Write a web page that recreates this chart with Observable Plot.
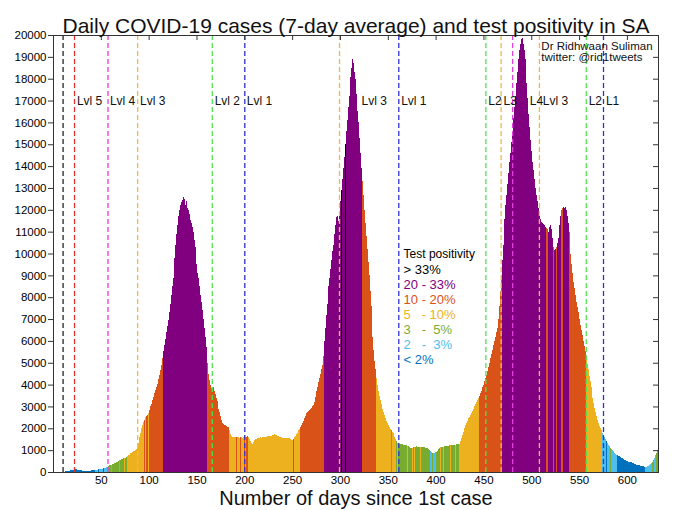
<!DOCTYPE html>
<html><head><meta charset="utf-8">
<script src="https://cdn.jsdelivr.net/npm/d3@7"></script>
<script src="https://cdn.jsdelivr.net/npm/@observablehq/plot@0.6"></script>
<style>
body{margin:0;background:#fff;}
svg text{white-space:pre;}
</style></head><body><div id="chart"></div>
<script>
// 7-day average daily cases, one value per day since the 1st case (day 0 .. 632)
const cases = [
0,0,1,1,2,3,4,6,8,10,
12,15,20,25,30,40,50,60,70,85,
100,110,120,125,120,110,100,90,80,70,
65,60,58,55,55,58,60,62,65,68,
72,76,80,85,90,100,110,120,130,140,
150,160,175,190,205,220,240,260,280,300,
320,340,360,380,400,420,440,470,500,530,
560,590,610,620,630,650,680,720,760,800,
830,860,890,920,950,980,1000,1050,1150,1350,
1600,1800,2000,2150,2300,2400,2500,2550,2600,2700,
2850,3000,3100,3200,3300,3450,3600,3750,3900,4050,
4250,4450,4650,4900,5200,5550,5800,6100,6400,6700,
6950,7300,7700,8100,8500,8900,9300,9800,10400,10900,
11300,11700,12000,12200,12350,12450,12600,12500,12200,12400,
12100,12000,11800,11550,11400,11200,11000,10600,10300,9900,
9500,9100,8900,8500,8100,7800,7400,7000,6600,6200,
5700,5000,4500,4200,4000,3850,3800,3900,3700,3550,
3400,3250,3050,2900,2750,2550,2400,2250,2200,2150,
2150,2100,2080,2050,1900,1750,1650,1600,1600,1580,
1600,1620,1600,1580,1550,1600,1620,1580,1550,1600,
1650,1620,1600,1650,1600,1500,1400,1320,1300,1380,
1450,1500,1530,1550,1560,1560,1580,1570,1580,1600,
1600,1610,1620,1620,1640,1650,1660,1650,1670,1690,
1700,1720,1700,1680,1650,1640,1620,1600,1580,1570,
1560,1560,1570,1560,1560,1550,1560,1540,1520,1480,
1450,1500,1580,1650,1720,1800,1900,1980,2060,2150,
2250,2350,2450,2550,2650,2700,2750,2800,2850,2900,
2950,3000,3050,3200,3450,3700,3900,4100,4300,4500,
4700,4900,5300,6000,6600,7200,7700,8200,8500,8900,
9300,9700,10100,10400,10900,11300,11650,11700,11500,11800,
12400,12900,13400,13900,14400,15000,15600,16100,16700,17200,
17700,18100,18500,18900,18700,18300,18000,17300,16500,16000,
15300,14600,13900,13300,12700,12000,11400,10800,10200,9600,
9000,8300,7600,6900,6200,5600,5100,4700,4300,4000,
3700,3500,3300,3100,2900,2750,2600,2450,2330,2240,
2150,2050,1980,1900,1830,1770,1700,1600,1500,1420,
1350,1320,1300,1280,1270,1260,1250,1240,1230,1220,
1200,1180,1150,1120,1100,1110,1130,1150,1160,1170,
1170,1160,1150,1150,1140,1150,1160,1150,1130,1110,
1100,1080,1050,1000,950,900,870,860,880,900,
930,970,1020,1070,1100,1130,1150,1160,1160,1170,
1180,1190,1200,1210,1220,1220,1230,1220,1230,1240,
1250,1260,1270,1280,1290,1300,1400,1550,1700,1850,
2000,2150,2250,2350,2450,2530,2620,2700,2800,2900,
3000,3100,3200,3300,3400,3500,3600,3700,3800,3900,
4000,4150,4300,4450,4600,4800,5000,5200,5400,5600,
5800,6000,6200,6400,6600,7000,7600,8300,9000,9700,
10400,11000,11600,12200,12700,13200,13700,14200,14600,15100,
15600,16200,16700,17200,17800,18300,18900,19300,19600,19800,
19850,19600,19300,18900,18400,17800,17100,16400,15800,15200,
14700,14200,13800,13400,13000,12700,12400,12100,11800,11600,
11450,11400,11350,11300,11200,11150,11100,11050,11000,11200,
11300,11100,10700,10300,10150,10200,10300,10500,10700,11300,
11700,12000,12100,12150,12100,12150,12000,11700,11400,11000,
10500,10000,9500,9100,8700,8400,8100,7800,7550,7300,
7000,6750,6500,6250,6000,5750,5550,5250,4950,4700,
4400,4150,3900,3650,3400,3150,2950,2750,2550,2400,
2250,2100,2000,1900,1800,1700,1600,1500,1400,1330,
1250,1180,1110,1050,990,940,900,860,830,800,
770,740,710,680,650,620,590,560,540,520,
500,480,465,450,435,420,400,380,360,340,
330,320,310,300,290,280,270,260,250,245,
250,260,280,310,350,400,460,540,640,760,
880,1000,1100
];

// Test positivity category, as runs: first day of the run and its category
// 0: <2%  1: 2-3%  2: 3-5%  3: 5-10%  4: 10-20%  5: 20-33%  6: >33%
const runStart = [
0,44,47,48,52,53,57,61,62,69,
70,74,75,77,95,96,97,99,100,115,
161,184,191,192,195,197,200,201,202,204,
251,252,258,283,301,302,305,306,323,338,
353,354,356,357,359,360,361,370,371,375,
376,377,378,384,385,394,396,397,400,405,
406,408,409,415,416,420,421,424,445,469,
515,517,523,524,526,527,531,533,539,557,
574,578,579,582,583,590,619,626,628,630];
const runCat = [
0,1,0,1,0,1,2,1,2,1,
2,3,2,3,4,3,4,3,4,5,
4,3,4,3,4,3,4,3,4,3,
4,3,4,5,6,5,6,5,4,3,
2,3,2,3,2,3,2,3,2,3,
2,3,2,3,2,1,2,1,2,3,
2,3,2,3,2,3,2,3,4,5,
4,5,4,5,4,5,4,5,4,3,
1,0,1,2,1,0,1,2,1,2];

const catColors = ["#0072BD","#4DBEEE","#77AC30","#EDB120","#D95319","#800080","#000000"];

// Legend (top to bottom)
const legendText = ["Test positivity", "> 33%", "20 - 33%", "10 - 20%", "5   - 10%", "3   -  5%", "2   -  3%", "< 2%"];
const legendCat = [6, 6, 5, 4, 3, 2, 1, 0];

// Lockdown level changes
const levelDays   = [10, 22, 57, 88, 166, 200, 299, 361, 452, 468, 480, 508, 557, 575];
const levelColors = ["#222222","#e03030","#e040e0","#f0b848","#50e050","#3030d0","#f0b848","#3030d0","#50e050","#f0b848","#e040e0","#f0b848","#50e050","#3030d0"];
const levelLabels = ["", "Lvl 5","Lvl 4","Lvl 3","Lvl 2","Lvl 1","Lvl 3","Lvl 1","L2","L3","L4","Lvl 3","L2","L1"];
const labelDays   = [null, 24.5, 59, 90.5, 168.5, 202, 322, 363.5, 454.5, 470.5, 498, 511.5, 559.5, 577.5];

const authorLines = ["Dr Ridhwaan Suliman", "twitter: @rid1tweets"];

const xTicks = [50,100,150,200,250,300,350,400,450,500,550,600];
const yTicks = d3.range(0, 20001, 1000);

const title = "Daily COVID-19 cases (7-day average) and test positivity in SA";
const xLabel = "Number of days since 1st case";

// build tables
const rows = cases.map((v, day) => ({day, v, cat: runCat[d3.bisectRight(runStart, day) - 1]}));
const levels = levelDays.map((d, i) => ({day: d, color: levelColors[i], label: levelLabels[i], labelDay: labelDays[i]}));
const legend = legendText.map((t, i) => ({t, i, color: catColors[legendCat[i]]}));

const W = 680, H = 510;
const mt = 35, mr = 22, mb = 38, ml = 53;
const fw = W - ml - mr, fh = H - mt - mb;

const chart = Plot.plot({
  width: W, height: H,
  marginTop: mt, marginRight: mr, marginBottom: mb, marginLeft: ml,
  style: {fontFamily: "'Liberation Sans', Arial, Helvetica, sans-serif", background: "#fff", color: "#000"},
  x: {domain: [0, 632.5], label: null},
  y: {domain: [0, 20000], label: null},
  color: {type: "ordinal", domain: [0,1,2,3,4,5,6], range: catColors},
  marks: [
    Plot.rectY(rows, {x1: "day", x2: d => d.day + 1, y: "v", fill: "cat", inset: 0, shapeRendering: "crispEdges"}),
    Plot.ruleX(levels, {x: "day", stroke: "color", strokeDasharray: "5,3", strokeWidth: 1.3}),
    Plot.text(levels.filter(d => d.label), {x: "labelDay", y: () => 17000, text: "label", textAnchor: "start", fontSize: 12, fill: "#111"}),
    Plot.text(authorLines, {x: () => 510, y: (d, i) => 19520 - i * 540, text: d => d, textAnchor: "start", fontSize: 11.5, fill: "#111"}),
    Plot.text(legend.slice(0, 1), {x: () => 366, y: () => 10000, text: "t", fill: "color", textAnchor: "start", fontSize: 12}),
    Plot.text(legend.slice(1), {x: () => 366, y: d => 10000 - 25 - d.i * 690, text: "t", fill: "color", textAnchor: "start", fontSize: 13}),
    Plot.frame({stroke: "#333"}),
    Plot.tickY(yTicks, {y: d => d, insetLeft: fw - 5, stroke: "#333"}),
    Plot.tickX(xTicks, {x: d => d, insetBottom: fh - 5, stroke: "#333"}),
    Plot.axisY({ticks: yTicks, tickSize: 5, tickPadding: 2, fontSize: 11.5, tickFormat: d3.format("d"), label: null, stroke: "#333"}),
    Plot.axisX({ticks: xTicks, tickSize: 0, tickPadding: 3, fontSize: 11.5, label: null}),
    Plot.text([title], {frameAnchor: "top", dy: -17, fontSize: 21, fill: "#111"}),
    Plot.text([xLabel], {frameAnchor: "bottom", dy: 32, fontSize: 20, fill: "#111"})
  ]
});
document.getElementById("chart").appendChild(chart);
</script>
</body></html>
